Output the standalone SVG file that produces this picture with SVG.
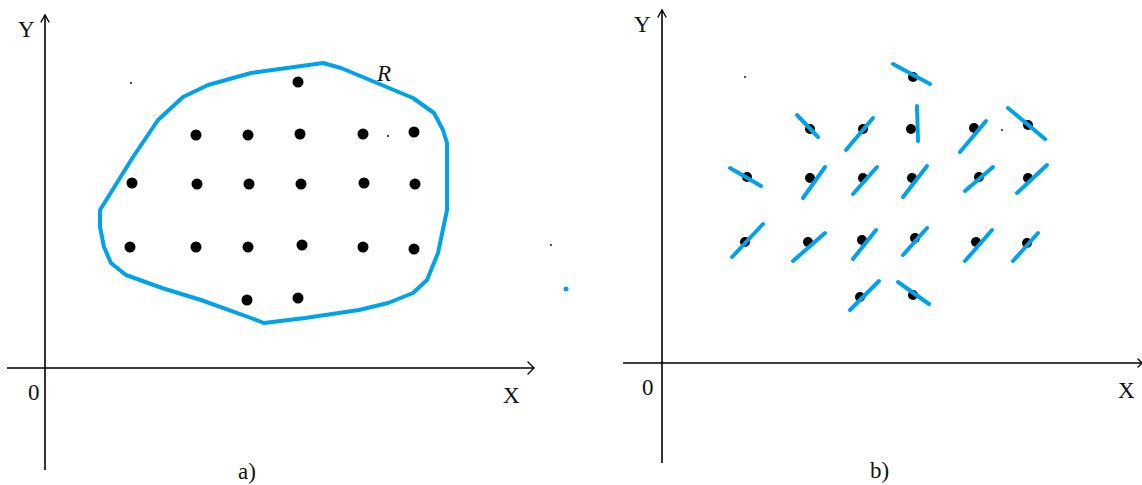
<svg xmlns="http://www.w3.org/2000/svg" width="1142" height="485" viewBox="0 0 1142 485">
<style>
.ax{stroke:#000;stroke-width:1.6;fill:none}
.ah{stroke:#000;stroke-width:1.4;fill:none;stroke-linecap:round}
.lbl{font-family:"Liberation Serif","Times New Roman",serif;font-size:23px;fill:#111}
.dot{fill:#000}
.bl{stroke:#00a2e8;stroke-width:4;stroke-linecap:round;fill:none}
.sp{fill:#000}
</style>
<rect width="1142" height="485" fill="#fff"/>
<!-- Panel a -->
<g id="axes-a">
  <line class="ax" x1="45" y1="15" x2="45" y2="470"/>
  <path class="ah" d="M41,22 L45,15 L49,22"/>
  <line class="ax" x1="7" y1="368" x2="534" y2="368"/>
  <path class="ah" d="M528,362 L534,368 L528,374"/>
  <text class="lbl" x="18" y="37">Y</text>
  <text class="lbl" x="28" y="400">0</text>
  <text class="lbl" x="503" y="403">X</text>
  <text class="lbl" x="238" y="479">a)</text>
</g>
<g id="region-R">
  <path d="M100,210 L133,157 L158,120 L183,97 L208,85 L251,73 L287,68 L323,63 L341,68 L377,83 L413,98 L434,113 L443,130 L447,143 L447,210 L438,253 L427,280 L413,293 L388,303 L359,310 L305,318 L264,323 L251,318 L201,300 L162,288 L126,275 L111,263 L104,247 L100,227 Z" fill="none" stroke="#00a2e8" stroke-width="4" stroke-linejoin="round"/>
  <text class="lbl" x="377" y="81" font-style="italic" font-size="22">R</text>
</g>
<g id="dots-a">
  <circle class="dot" cx="298" cy="82" r="5.5"/>
  <circle class="dot" cx="196" cy="135" r="5.5"/>
  <circle class="dot" cx="248" cy="135" r="5.5"/>
  <circle class="dot" cx="300" cy="134" r="5.5"/>
  <circle class="dot" cx="363" cy="134" r="5.5"/>
  <circle class="dot" cx="414" cy="132" r="5.5"/>
  <circle class="dot" cx="132" cy="183" r="5.5"/>
  <circle class="dot" cx="197" cy="184" r="5.5"/>
  <circle class="dot" cx="249" cy="184" r="5.5"/>
  <circle class="dot" cx="301" cy="184" r="5.5"/>
  <circle class="dot" cx="364" cy="183" r="5.5"/>
  <circle class="dot" cx="415" cy="184" r="5.5"/>
  <circle class="dot" cx="130" cy="247" r="5.5"/>
  <circle class="dot" cx="196" cy="247" r="5.5"/>
  <circle class="dot" cx="248" cy="247" r="5.5"/>
  <circle class="dot" cx="302" cy="245" r="5.5"/>
  <circle class="dot" cx="363" cy="247" r="5.5"/>
  <circle class="dot" cx="414" cy="249" r="5.5"/>
  <circle class="dot" cx="247" cy="300" r="5.5"/>
  <circle class="dot" cx="298" cy="298" r="5.5"/>
  <circle class="sp" cx="131" cy="83" r="0.9"/>
  <circle class="sp" cx="388" cy="136" r="0.9"/>
  <circle class="sp" cx="551" cy="245" r="0.9"/>
  <circle cx="566" cy="289" r="2.5" fill="#00a2e8"/>
</g>
<!-- Panel b -->
<g id="axes-b">
  <line class="ax" x1="662" y1="10" x2="662" y2="463"/>
  <path class="ah" d="M658,17 L662,10 L666,17"/>
  <line class="ax" x1="623" y1="363" x2="1142" y2="363"/>
  <path class="ah" d="M1138,359 L1142,363 L1138,367"/>
  <text class="lbl" x="634" y="32">Y</text>
  <text class="lbl" x="642" y="395">0</text>
  <text class="lbl" x="1118" y="398">X</text>
  <text class="lbl" x="870" y="478">b)</text>
</g>
<g id="dots-b">
  <circle class="dot" cx="913" cy="77" r="5"/>
  <circle class="dot" cx="810" cy="129" r="5"/>
  <circle class="dot" cx="863" cy="129" r="5"/>
  <circle class="dot" cx="911" cy="129" r="5"/>
  <circle class="dot" cx="974" cy="128" r="5"/>
  <circle class="dot" cx="1028" cy="125" r="5"/>
  <circle class="dot" cx="747" cy="177" r="5"/>
  <circle class="dot" cx="810" cy="178" r="5"/>
  <circle class="dot" cx="863" cy="178" r="5"/>
  <circle class="dot" cx="912" cy="178" r="5"/>
  <circle class="dot" cx="979" cy="177" r="5"/>
  <circle class="dot" cx="1028" cy="178" r="5"/>
  <circle class="dot" cx="745" cy="242" r="5"/>
  <circle class="dot" cx="808" cy="242" r="5"/>
  <circle class="dot" cx="862" cy="240" r="5"/>
  <circle class="dot" cx="915" cy="238" r="5"/>
  <circle class="dot" cx="976" cy="242" r="5"/>
  <circle class="dot" cx="1027" cy="243" r="5"/>
  <circle class="dot" cx="860" cy="297" r="5"/>
  <circle class="dot" cx="913" cy="295" r="5"/>
  <circle class="sp" cx="745" cy="77" r="0.9"/>
  <circle class="sp" cx="1002" cy="130" r="0.9"/>
</g>
<g id="orientations-b">
  <line class="bl" x1="893" y1="64" x2="930" y2="84"/>
  <line class="bl" x1="797" y1="115" x2="818" y2="137"/>
  <line class="bl" x1="846" y1="150" x2="873" y2="118"/>
  <line class="bl" x1="917" y1="106" x2="918" y2="141"/>
  <line class="bl" x1="960" y1="152" x2="986" y2="121"/>
  <line class="bl" x1="1008" y1="108" x2="1045" y2="139"/>
  <line class="bl" x1="730" y1="168" x2="761" y2="186"/>
  <line class="bl" x1="803" y1="198" x2="825" y2="167"/>
  <line class="bl" x1="853" y1="194" x2="877" y2="167"/>
  <line class="bl" x1="903" y1="197" x2="927" y2="166"/>
  <line class="bl" x1="965" y1="191" x2="993" y2="167"/>
  <line class="bl" x1="1017" y1="193" x2="1047" y2="165"/>
  <line class="bl" x1="732" y1="257" x2="763" y2="224"/>
  <line class="bl" x1="793" y1="261" x2="825" y2="233"/>
  <line class="bl" x1="853" y1="259" x2="876" y2="230"/>
  <line class="bl" x1="903" y1="255" x2="927" y2="228"/>
  <line class="bl" x1="965" y1="261" x2="992" y2="230"/>
  <line class="bl" x1="1013" y1="261" x2="1038" y2="233"/>
  <line class="bl" x1="850" y1="310" x2="879" y2="281"/>
  <line class="bl" x1="898" y1="282" x2="929" y2="304"/>
</g>
</svg>
